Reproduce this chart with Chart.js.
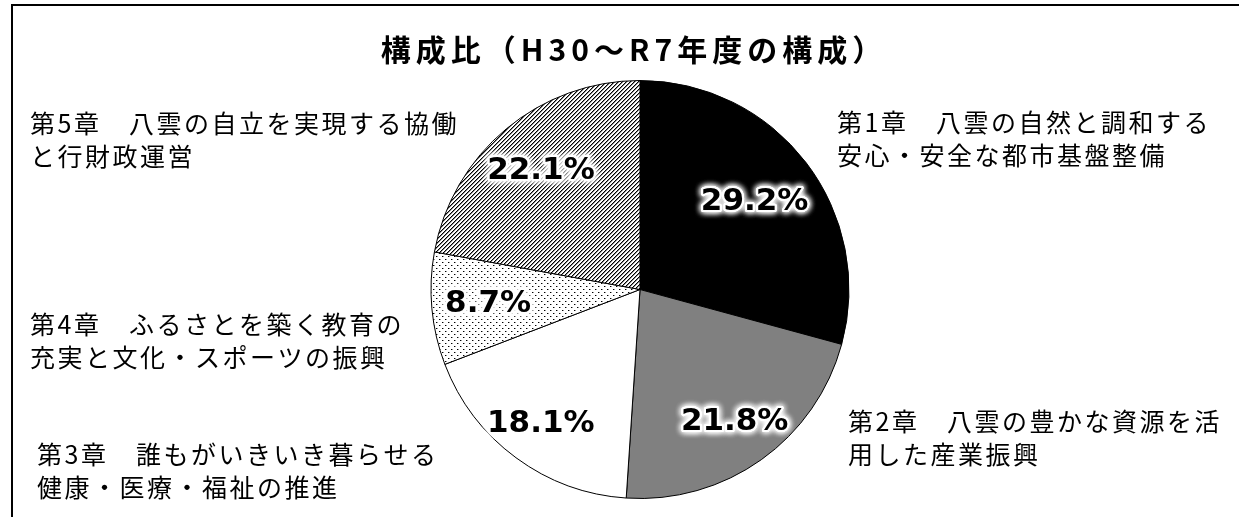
<!DOCTYPE html>
<html>
<head>
<meta charset="utf-8">
<script src="https://cdn.jsdelivr.net/npm/chart.js@4"></script>
<style>
  body { margin: 0; background: #fff; }
  #wrap { width: 1239px; height: 517px; position: relative; }
</style>
</head>
<body>
<div id="wrap"><canvas id="chart-share"></canvas></div>
<script>
// chart values
const chartTitle = '構成比（H30～R7年度の構成）';
const chapters = [
  ['第1章　八雲の自然と調和する', '安心・安全な都市基盤整備'],
  ['第2章　八雲の豊かな資源を活', '用した産業振興'],
  ['第3章　誰もがいきいき暮らせる', '健康・医療・福祉の推進'],
  ['第4章　ふるさとを築く教育の', '充実と文化・スポーツの振興'],
  ['第5章　八雲の自立を実現する協働', 'と行財政運営']
];
const shares = [29.2, 21.8, 18.1, 8.7, 22.1];

// fill patterns (hatch / dots) like the printed version
function makePattern(kind) {
  const c = document.createElement('canvas');
  const g = c.getContext('2d');
  if (kind === 'hatch') {
    c.width = 4; c.height = 4;
    g.fillStyle = '#fff';
    g.fillRect(0, 0, 4, 4);
    for (let x = 0; x < 4; x++) {
      for (let y = 0; y < 4; y++) {
        const k = (x + y) % 4;
        if (k === 3) { g.fillStyle = '#000'; g.fillRect(x, y, 1, 1); }
        if (k === 0) { g.fillStyle = '#8a8a8a'; g.fillRect(x, y, 1, 1); }
      }
    }
  } else {
    c.width = 6; c.height = 6;
    g.fillStyle = '#fff';
    g.fillRect(0, 0, 6, 6);
    g.fillStyle = '#000';
    g.fillRect(1, 1, 1, 1);
    g.fillRect(4, 4, 1, 1);
    g.fillStyle = '#999';
    g.fillRect(2, 1, 1, 1);
    g.fillRect(5, 4, 1, 1);
  }
  return g.createPattern(c, 'repeat');
}

const fills = ['#000000', '#808080', '#ffffff', makePattern('dots'), makePattern('hatch')];

// where the outside chapter labels sit (text only)
const chapterPos = [
  { x: 837, y: 122 },
  { x: 848, y: 421 },
  { x: 37, y: 454 },
  { x: 30, y: 324 },
  { x: 30, y: 123 }
];
const pctRadius = [0.69, 0.78, 0.8, 0.73, 0.74];

const framePlugin = {
  id: 'frame',
  beforeDraw(chart) {
    const ctx = chart.ctx;
    ctx.save();
    ctx.fillStyle = '#fff';
    ctx.fillRect(0, 0, chart.width, chart.height);
    ctx.fillStyle = '#000';
    ctx.fillRect(11, 4, chart.width - 11, 2);
    ctx.fillRect(11, 4, 2, chart.height - 4);
    ctx.restore();
  }
};

const labelPlugin = {
  id: 'sliceLabels',
  afterDatasetsDraw(chart) {
    const ctx = chart.ctx;
    ctx.save();

    // title
    ctx.fillStyle = '#000';
    ctx.font = 'bold 30px "Noto Sans CJK JP"';
    ctx.letterSpacing = '5px';
    ctx.textAlign = 'center';
    ctx.textBaseline = 'middle';
    ctx.fillText(chartTitle, 634, 50);

    // chapter labels
    ctx.font = '25px "Noto Sans CJK JP"';
    ctx.letterSpacing = '2.5px';
    ctx.textAlign = 'left';
    chapters.forEach(function(lines, i) {
      lines.forEach(function(t, j) {
        ctx.fillText(t, chapterPos[i].x, chapterPos[i].y + j * 33);
      });
    });

    // percent labels with white glow
    ctx.letterSpacing = '0px';
    ctx.textAlign = 'center';
    ctx.font = 'bold 31px "DejaVu Sans"';
    const meta = chart.getDatasetMeta(0);
    meta.data.forEach(function(arc, i) {
      const p = arc.getProps(['x', 'y', 'startAngle', 'endAngle', 'outerRadius']);
      const mid = (p.startAngle + p.endAngle) / 2;
      const r = p.outerRadius * pctRadius[i];
      const tx = p.x + Math.cos(mid) * r;
      const ty = p.y + Math.sin(mid) * r;
      const txt = shares[i].toFixed(1) + '%';
      ctx.shadowColor = '#fff';
      ctx.shadowBlur = 6;
      ctx.strokeStyle = '#fff';
      ctx.lineWidth = 4;
      ctx.lineJoin = 'round';
      for (let k = 0; k < 3; k++) ctx.strokeText(txt, tx, ty);
      ctx.shadowBlur = 0;
      ctx.fillStyle = '#000';
      ctx.fillText(txt, tx, ty);
    });
    ctx.restore();
  }
};

const ctx = document.getElementById('chart-share').getContext('2d');
const myChart = new Chart(ctx, {
  type: 'pie',
  data: {
    labels: chapters,
    datasets: [{
      data: shares,
      backgroundColor: fills,
      borderColor: '#000',
      borderWidth: 1
    }]
  },
  options: {
    responsive: true,
    maintainAspectRatio: false,
    animation: false,
    layout: { padding: { top: 80, bottom: 18, left: 300, right: 259 } },
    plugins: {
      legend: { display: false },
      tooltip: { enabled: false }
    }
  },
  plugins: [framePlugin, labelPlugin]
});
</script>
</body>
</html>
